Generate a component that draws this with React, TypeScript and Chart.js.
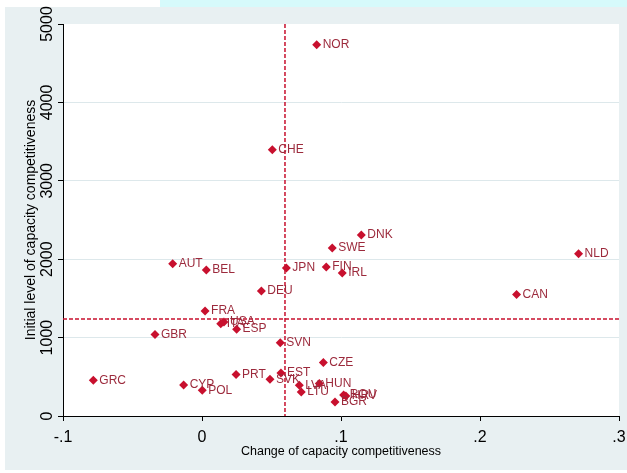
import React, { useEffect, useRef } from "react";
import { Chart, registerables } from "chart.js";

Chart.register(...registerables);

const countries = [
  "NOR", "CHE", "DNK", "SWE", "NLD", "AUT", "BEL", "JPN", "FIN", "IRL",
  "DEU", "CAN", "FRA", "ITA", "USA", "ESP", "GBR", "SVN", "CZE", "PRT",
  "EST", "SVK", "LVA", "HUN", "GRC", "CYP", "POL", "LTU", "ROU", "HRV", "BGR",
];
const changeValues = [
  0.0825, 0.0506, 0.1146, 0.0937, 0.2709, -0.0211, 0.0031, 0.0607, 0.0894, 0.1009,
  0.0427, 0.2263, 0.0022, 0.0135, 0.0158, 0.0249, -0.0338, 0.0563, 0.0873, 0.0245,
  0.0568, 0.0489, 0.0700, 0.0844, -0.0782, -0.0132, 0.0002, 0.0714, 0.1019, 0.1035, 0.0957,
];
const initialValues = [
  4734, 3396, 2310, 2143, 2071, 1943, 1862, 1888, 1901, 1824,
  1594, 1551, 1338, 1178, 1200, 1108, 1040, 933, 682, 529,
  550, 469, 392, 414, 456, 396, 328, 307, 268, 256, 179,
];
const xTicks = [-0.1, 0, 0.1, 0.2, 0.3];
const xTickLabels = ["-.1", "0", ".1", ".2", ".3"];
const yTicks = [0, 1000, 2000, 3000, 4000, 5000];
const yTickLabels = ["0", "1000", "2000", "3000", "4000", "5000"];
const meanChange = 0.0597;
const meanInitial = 1236;
const xTitle = "Change of capacity competitiveness";
const yTitle = "Initial level of capacity competitiveness";

const FONT = '"Liberation Sans", Arial, Helvetica, sans-serif';
const MARK = "#c8102e";
const LABEL = "#9c2a3c";

const decor = {
  id: "decor",
  beforeDraw(chart: any) {
    const { ctx, chartArea } = chart;
    ctx.save();
    ctx.fillStyle = "#ffffff";
    ctx.fillRect(0, 0, chart.width, chart.height);
    ctx.fillStyle = "#d6fafb";
    ctx.fillRect(160, 0, chart.width - 160, 7);
    ctx.fillStyle = "#e8f0f2";
    ctx.fillRect(5, 7, chart.width - 5, 463);
    ctx.fillStyle = "#ffffff";
    ctx.fillRect(chartArea.left, chartArea.top, chartArea.right - chartArea.left, chartArea.bottom - chartArea.top);
    ctx.restore();
  },
  beforeDatasetsDraw(chart: any) {
    const { ctx, chartArea, scales } = chart;
    const xs = scales.x;
    const ys = scales.y;
    ctx.save();
    ctx.strokeStyle = MARK;
    ctx.lineWidth = 1.5;
    ctx.setLineDash([4, 2]);
    const vx = xs.getPixelForValue(meanChange);
    ctx.beginPath();
    ctx.moveTo(vx, chartArea.top);
    ctx.lineTo(vx, chartArea.bottom);
    ctx.stroke();
    const hy = ys.getPixelForValue(meanInitial);
    ctx.beginPath();
    ctx.moveTo(chartArea.left, hy);
    ctx.lineTo(chartArea.right, hy);
    ctx.stroke();
    ctx.restore();
  },
  afterDatasetsDraw(chart: any) {
    const { ctx } = chart;
    const meta = chart.getDatasetMeta(0);
    ctx.save();
    ctx.fillStyle = LABEL;
    ctx.font = `12px ${FONT}`;
    ctx.textAlign = "left";
    ctx.textBaseline = "middle";
    meta.data.forEach((pt: any, i: number) => {
      ctx.fillText(countries[i], pt.x + 6, pt.y);
    });
    ctx.restore();
  },
  afterDraw(chart: any) {
    const { ctx, chartArea, scales } = chart;
    const xs = scales.x;
    const ys = scales.y;
    ctx.save();
    ctx.fillStyle = "#000000";
    ctx.font = `16px ${FONT}`;
    ctx.textAlign = "center";
    ctx.textBaseline = "alphabetic";
    xTicks.forEach((v, i) => {
      ctx.fillText(xTickLabels[i], xs.getPixelForValue(v), 442);
    });
    yTicks.forEach((v, i) => {
      ctx.save();
      ctx.translate(52, ys.getPixelForValue(v));
      ctx.rotate(-Math.PI / 2);
      ctx.fillText(yTickLabels[i], 0, 0);
      ctx.restore();
    });
    ctx.font = `12.5px ${FONT}`;
    ctx.fillText(xTitle, (chartArea.left + chartArea.right) / 2, 455);
    ctx.font = `14px ${FONT}`;
    ctx.save();
    ctx.translate(35, (chartArea.top + chartArea.bottom) / 2);
    ctx.rotate(-Math.PI / 2);
    ctx.fillText(yTitle, 0, 0);
    ctx.restore();
    ctx.restore();
  },
};

export default function App() {
  const canvasRef = useRef<HTMLCanvasElement | null>(null);

  useEffect(() => {
    const canvas = canvasRef.current;
    if (!canvas) return;
    const points = countries.map((_, i) => ({ x: changeValues[i], y: initialValues[i] }));
    const chart = new Chart(canvas, {
      type: "scatter",
      data: {
        datasets: [
          {
            label: "countries",
            data: points,
            pointStyle: "rectRot",
            pointRadius: 4.5,
            backgroundColor: MARK,
            borderColor: MARK,
            borderWidth: 0,
          },
        ],
      },
      options: {
        responsive: false,
        animation: false,
        events: [],
        layout: { padding: { top: 24, right: 8, left: 0, bottom: 0 } },
        plugins: {
          legend: { display: false },
          tooltip: { enabled: false },
          title: { display: false },
        },
        scales: {
          x: {
            type: "linear",
            min: -0.1,
            max: 0.3,
            afterBuildTicks: (s: any) => {
              s.ticks = xTicks.map((v) => ({ value: v }));
            },
            afterFit: (s: any) => {
              s.height = 57;
            },
            ticks: { display: false },
            grid: {
              drawOnChartArea: false,
              color: "rgba(0,0,0,0)",
              tickColor: "#000000",
              tickLength: 5,
              lineWidth: 1,
            },
            border: { display: true, color: "#000000", width: 1 },
          },
          y: {
            type: "linear",
            min: 0,
            max: 5000,
            afterBuildTicks: (s: any) => {
              s.ticks = yTicks.map((v) => ({ value: v }));
            },
            afterFit: (s: any) => {
              s.width = 63;
            },
            ticks: { display: false },
            grid: {
              color: (c: any) =>
                c.tick && (c.tick.value === 0 || c.tick.value === 5000) ? "rgba(0,0,0,0)" : "#dde8eb",
              tickColor: "#000000",
              tickLength: 5,
              lineWidth: 1,
            },
            border: { display: true, color: "#000000", width: 1 },
          },
        },
      },
      plugins: [decor],
    });
    return () => chart.destroy();
  }, []);

  return (
    <div style={{ position: "fixed", left: 0, top: 0, width: 627, height: 473 }}>
      <canvas ref={canvasRef} width={627} height={473} style={{ width: 627, height: 473, display: "block" }} />
    </div>
  );
}
